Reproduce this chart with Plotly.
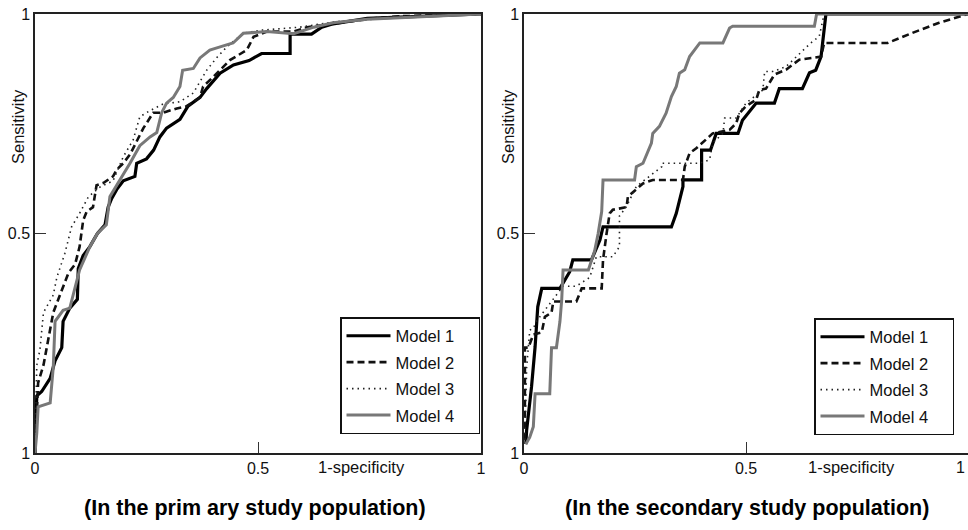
import plotly.graph_objects as go

# ---------------- data ----------------
model_names = ["Model 1", "Model 2", "Model 3", "Model 4"]
tick_vals = [0, 0.5, 1]
y_tick_text = ["1", "0.5", "1"]
x_tick_text = ["0", "0.5", "1"]
x_tick_text_right = ["0", "0.5", ""]   # the "1" at the right edge is placed as a right-aligned label below
right_end_label = "1"

# Primary study population (1-specificity, sensitivity)
p_m1_x = [0, 0.004, 0.015, 0.034, 0.045, 0.06, 0.063, 0.078, 0.095, 0.097, 0.108, 0.123, 0.14, 0.157, 0.164, 0.172,
          0.183, 0.198, 0.224, 0.228, 0.25, 0.266, 0.28, 0.295, 0.325, 0.343, 0.37, 0.385, 0.415, 0.445, 0.48,
          0.508, 0.572, 0.572, 0.62, 0.643, 0.665, 0.745, 1]
p_m1_y = [0, 0.13, 0.14, 0.17, 0.21, 0.24, 0.30, 0.33, 0.35, 0.42, 0.45, 0.47, 0.50, 0.52, 0.56, 0.58,
          0.60, 0.62, 0.63, 0.66, 0.67, 0.69, 0.72, 0.74, 0.76, 0.79, 0.81, 0.83, 0.865, 0.884, 0.894,
          0.91, 0.91, 0.954, 0.954, 0.97, 0.977, 0.99, 1]

p_m2_x = [0, 0.007, 0.019, 0.03, 0.041, 0.056, 0.075, 0.09, 0.10, 0.108, 0.116, 0.13, 0.138, 0.153, 0.175, 0.183,
          0.198, 0.213, 0.228, 0.243, 0.265, 0.287, 0.318, 0.34, 0.37, 0.377, 0.40, 0.437, 0.475, 0.49, 0.52,
          0.58, 0.61, 0.70, 0.76, 0.82, 1]
p_m2_y = [0, 0.16, 0.20, 0.26, 0.32, 0.36, 0.41, 0.43, 0.47, 0.53, 0.55, 0.56, 0.61, 0.615, 0.63, 0.645,
          0.66, 0.68, 0.71, 0.74, 0.775, 0.775, 0.785, 0.79, 0.81, 0.835, 0.857, 0.895, 0.918, 0.948, 0.96,
          0.96, 0.97, 0.982, 0.99, 0.995, 1]

p_m3_x = [0, 0.004, 0.011, 0.019, 0.041, 0.049, 0.067, 0.082, 0.10, 0.12, 0.146, 0.175, 0.198, 0.22, 0.235,
          0.258, 0.287, 0.325, 0.355, 0.385, 0.407, 0.43, 0.467, 0.505, 0.594, 0.67, 0.82, 1]
p_m3_y = [0, 0.20, 0.235, 0.32, 0.36, 0.40, 0.455, 0.515, 0.546, 0.584, 0.606, 0.62, 0.675, 0.713, 0.766,
          0.78, 0.795, 0.80, 0.82, 0.872, 0.90, 0.925, 0.956, 0.963, 0.97, 0.982, 0.995, 1]

p_m4_x = [0, 0.004, 0.007, 0.034, 0.041, 0.045, 0.063, 0.078, 0.10, 0.123, 0.14, 0.16, 0.168, 0.18, 0.195,
          0.213, 0.235, 0.258, 0.273, 0.284, 0.295, 0.31, 0.325, 0.331, 0.355, 0.37, 0.392, 0.415, 0.444,
          0.467, 0.52, 0.58, 0.625, 0.668, 0.745, 1]
p_m4_y = [0, 0.045, 0.105, 0.114, 0.196, 0.30, 0.325, 0.33, 0.417, 0.47, 0.50, 0.52, 0.584, 0.606, 0.63,
          0.66, 0.70, 0.72, 0.73, 0.775, 0.797, 0.81, 0.835, 0.872, 0.876, 0.90, 0.918, 0.925, 0.934,
          0.956, 0.96, 0.955, 0.97, 0.98, 0.988, 1]

# Secondary study population
s_m1_x = [0.004, 0.006, 0.017, 0.025, 0.031, 0.04, 0.081, 0.103, 0.11, 0.152, 0.171, 0.178, 0.332, 0.343, 0.358,
          0.358, 0.40, 0.40, 0.42, 0.433, 0.482, 0.492, 0.523, 0.564, 0.575, 0.627, 0.643, 0.657, 0.669, 0.676,
          0.68, 1]
s_m1_y = [0.02, 0.052, 0.151, 0.242, 0.333, 0.375, 0.375, 0.413, 0.44, 0.44, 0.485, 0.515, 0.515, 0.546, 0.607,
          0.622, 0.622, 0.69, 0.69, 0.728, 0.728, 0.758, 0.797, 0.797, 0.83, 0.83, 0.866, 0.872, 0.903, 0.956,
          1.0, 1.0]

s_m2_x = [0.002, 0.002, 0.01, 0.021, 0.04, 0.047, 0.062, 0.066, 0.118, 0.13, 0.175, 0.178, 0.186, 0.193, 0.20,
          0.231, 0.234, 0.253, 0.268, 0.29, 0.358, 0.362, 0.373, 0.388, 0.41, 0.425, 0.463, 0.478, 0.485, 0.50,
          0.523, 0.53, 0.545, 0.564, 0.59, 0.62, 0.65, 0.669, 0.676, 0.819, 0.875, 0.935, 1]
s_m2_y = [0.03, 0.24, 0.24, 0.27, 0.275, 0.31, 0.32, 0.345, 0.345, 0.375, 0.375, 0.44, 0.50, 0.546, 0.554,
          0.56, 0.584, 0.60, 0.614, 0.622, 0.622, 0.652, 0.683, 0.694, 0.713, 0.728, 0.736, 0.751, 0.774, 0.79,
          0.805, 0.827, 0.83, 0.862, 0.873, 0.896, 0.90, 0.903, 0.934, 0.934, 0.957, 0.98, 1]

s_m3_x = [0.002, 0.006, 0.013, 0.021, 0.028, 0.088, 0.118, 0.148, 0.163, 0.20, 0.215, 0.215, 0.23, 0.253, 0.31,
          0.31, 0.395, 0.418, 0.425, 0.448, 0.452, 0.478, 0.50, 0.538, 0.542, 0.56, 0.59, 0.613, 0.646, 0.665,
          0.676, 1]
s_m3_y = [0.03, 0.196, 0.28, 0.284, 0.30, 0.38, 0.38, 0.40, 0.447, 0.447, 0.47, 0.54, 0.56, 0.607, 0.652,
          0.66, 0.66, 0.668, 0.706, 0.728, 0.763, 0.763, 0.797, 0.827, 0.869, 0.869, 0.88, 0.903, 0.934, 0.949,
          1.0, 1.0]

s_m4_x = [0.004, 0.013, 0.021, 0.025, 0.058, 0.062, 0.073, 0.081, 0.085, 0.088, 0.145, 0.159, 0.167, 0.175,
          0.178, 0.249, 0.253, 0.268, 0.287, 0.29, 0.305, 0.32, 0.332, 0.343, 0.35, 0.362, 0.373, 0.396, 0.448,
          0.463, 0.47, 0.654, 0.659, 1]
s_m4_y = [0.02, 0.036, 0.06, 0.135, 0.135, 0.24, 0.24, 0.30, 0.35, 0.417, 0.417, 0.46, 0.50, 0.55, 0.622,
          0.622, 0.652, 0.66, 0.706, 0.728, 0.744, 0.774, 0.812, 0.835, 0.865, 0.873, 0.903, 0.934, 0.934,
          0.968, 0.972, 0.972, 1.0, 1.0]

primary = [(p_m1_x, p_m1_y), (p_m2_x, p_m2_y), (p_m3_x, p_m3_y), (p_m4_x, p_m4_y)]
secondary = [(s_m1_x, s_m1_y), (s_m2_x, s_m2_y), (s_m3_x, s_m3_y), (s_m4_x, s_m4_y)]

# ---------------- styles ----------------
line_styles = [
    dict(color="#000000", width=3.2, dash="solid"),
    dict(color="#111111", width=2.6, dash="7px,4px"),
    dict(color="#222222", width=1.6, dash="1.5px,4px"),
    dict(color="#787878", width=3.0, dash="solid"),
]

FONT = "Liberation Sans, Arial, Helvetica, sans-serif"
LEGEND_PAD = "\u00a0" * 4

fig = go.Figure()
for panel, (data, xa, ya, leg) in enumerate([(primary, "x", "y", "legend"), (secondary, "x2", "y2", "legend2")]):
    for i, (xs, ys) in enumerate(data):
        fig.add_trace(go.Scatter(
            x=xs, y=ys, mode="lines", name=model_names[i] + LEGEND_PAD,
            line=line_styles[i], xaxis=xa, yaxis=ya, legend=leg,
            legendgroup=f"{leg}_{i}", showlegend=True,
        ))

axis_common = dict(
    range=[0, 1], showgrid=False, zeroline=False, showline=True, mirror=True,
    linecolor="#222222", linewidth=1.5, ticks="inside", ticklen=11, tickwidth=1.3,
    tickcolor="#333333", tickvals=tick_vals, automargin=False, ticklabeloverflow="allow",
    tickfont=dict(family=FONT, size=16, color="#111111"), fixedrange=True,
)

legend_common = dict(
    xanchor="right", yanchor="bottom",
    bgcolor="white", bordercolor="#111111", borderwidth=1.5,
    font=dict(family=FONT, size=16.5, color="#111111"), tracegroupgap=2,
    itemwidth=44,
)

ydom = [77 / 530, 516 / 530]
fig.update_layout(
    width=968, height=530,
    margin=dict(l=0, r=0, t=0, b=0),
    paper_bgcolor="white", plot_bgcolor="white",
    font=dict(family=FONT, color="#111111"),
    xaxis=dict(domain=[35 / 968, 481 / 968], ticktext=x_tick_text, anchor="y", **axis_common),
    yaxis=dict(domain=ydom, ticktext=y_tick_text, anchor="x", **axis_common),
    xaxis2=dict(domain=[524 / 968, 1.0], ticktext=x_tick_text_right, anchor="y2", **axis_common),
    yaxis2=dict(domain=ydom, ticktext=y_tick_text, anchor="x2", **axis_common),
    legend=dict(x=480 / 968, y=(530 - 434) / 530, **legend_common),
    legend2=dict(x=954 / 968, y=(530 - 435) / 530, **legend_common),
)

annotations = [
    dict(text="Sensitivity", x=18 / 968, y=(530 - 127) / 530, textangle=-90, xanchor="center"),
    dict(text="Sensitivity", x=508 / 968, y=(530 - 127) / 530, textangle=-90, xanchor="center"),
    dict(text="1-specificity", x=361 / 968, y=(530 - 467) / 530, xanchor="center"),
    dict(text="1-specificity", x=851 / 968, y=(530 - 467) / 530, xanchor="center"),
]
for a in annotations:
    fig.add_annotation(xref="paper", yref="paper", showarrow=False, yanchor="middle",
                       font=dict(family=FONT, size=16.5, color="#111111"), **a)

# right-aligned end label of the secondary panel's x axis
fig.add_annotation(xref="paper", yref="paper", showarrow=False, x=967 / 968, y=(530 - 467) / 530,
                   xanchor="right", yanchor="middle", text=right_end_label,
                   font=dict(family=FONT, size=16, color="#111111"))

for txt, cx in [("(In the prim ary study population)", 255 / 968),
                ("(In the secondary study population)", 747 / 968)]:
    fig.add_annotation(xref="paper", yref="paper", showarrow=False, x=cx, y=(530 - 508) / 530,
                       xanchor="center", yanchor="middle", text=f"<b>{txt}</b>",
                       font=dict(family=FONT, size=21.5, color="#000000"))

fig.write_html("out.html", config={"displayModeBar": False},
               post_script="document.body.style.margin='0px';")
